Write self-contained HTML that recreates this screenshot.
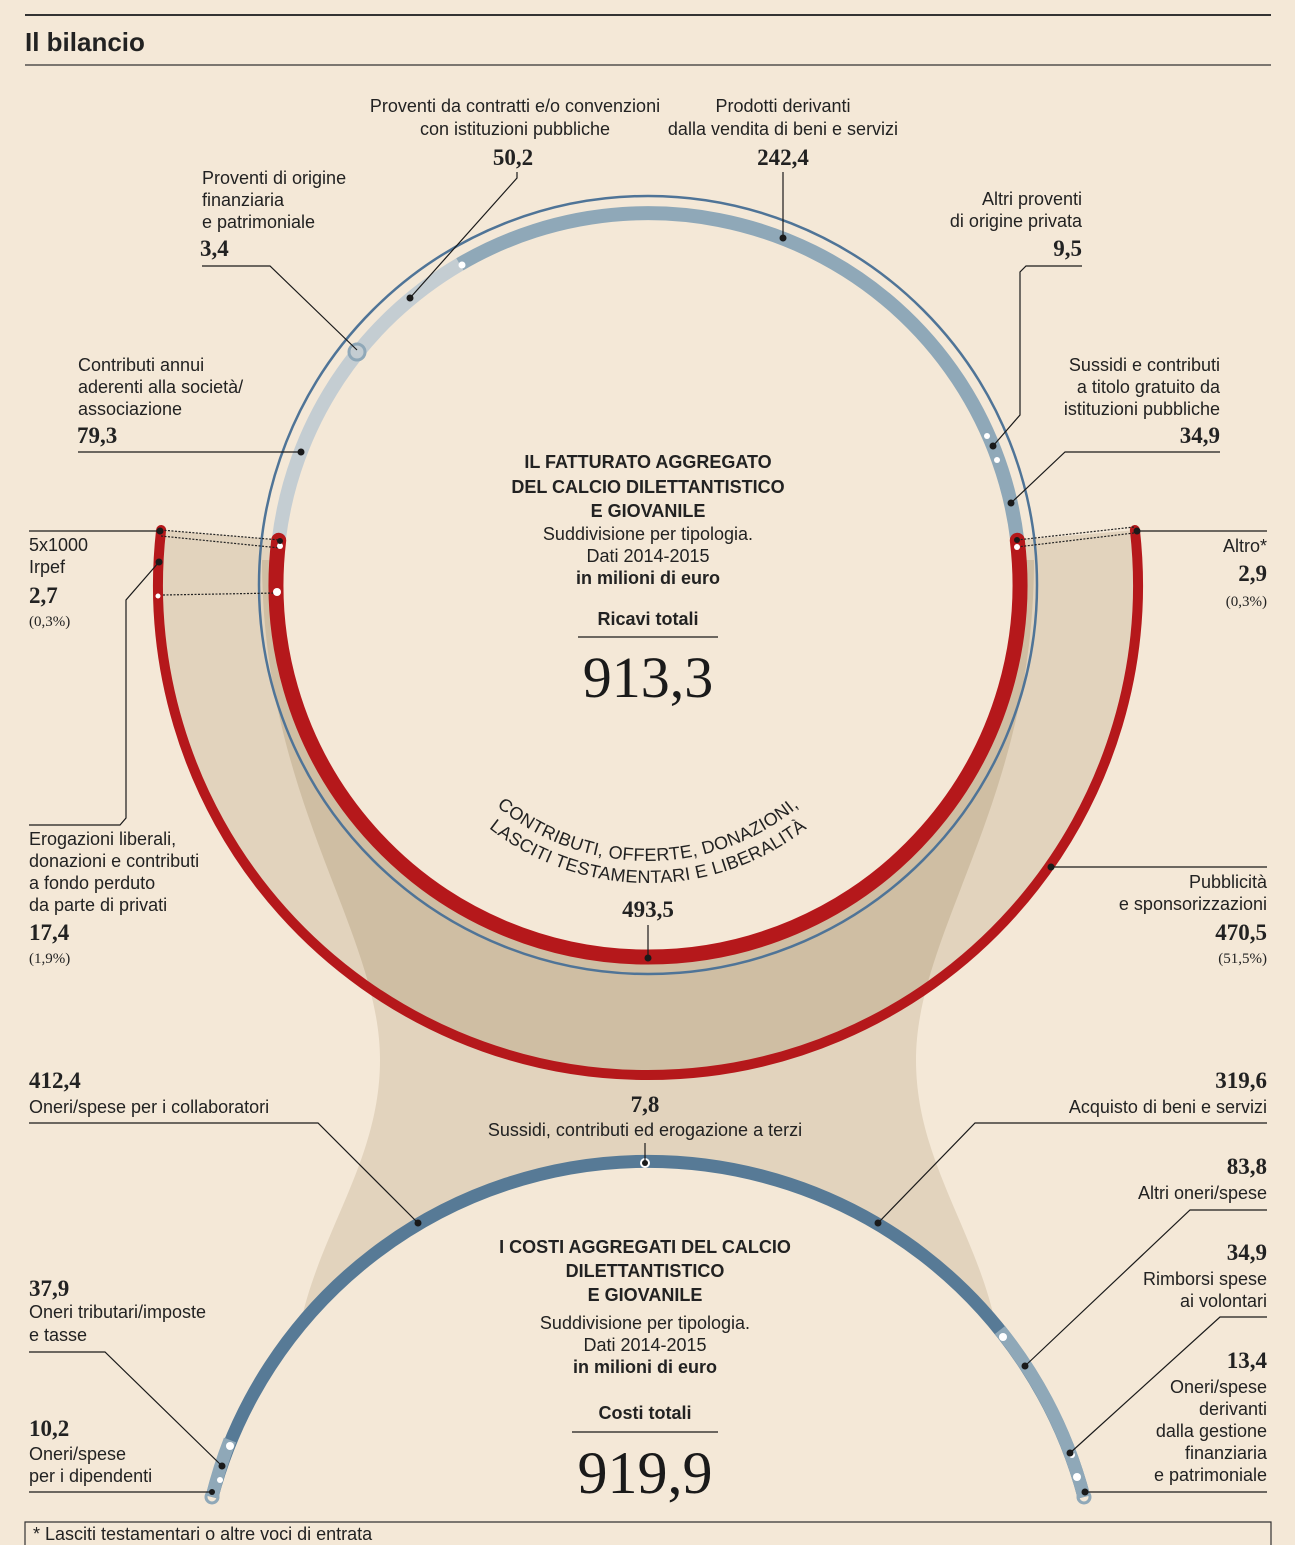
<!DOCTYPE html>
<html><head><meta charset="utf-8"><style>
html,body{margin:0;padding:0;background:#f4e8d7;overflow:hidden}
svg{display:block}
.s{font-family:"Liberation Sans Narrow","Liberation Sans",sans-serif;font-size:18px;fill:#222}
.b{font-weight:bold}
.n{font-family:"Liberation Serif",serif;font-weight:bold;font-size:23px;fill:#222}
.p{font-family:"Liberation Serif",serif;font-size:15px;fill:#222}
.ln{stroke:#1a1a1a;stroke-width:1.2;fill:none}
.e{text-anchor:end}.m{text-anchor:middle}
</style></head><body>
<svg width="1295" height="1545" viewBox="0 0 1295 1545" xmlns="http://www.w3.org/2000/svg">
<defs>
<clipPath id="fc"><path d="M262,560 C262,800 380,930 380,1060 C380,1160 320,1230 300,1326 A451 451 0 0 1 996,1326 C976,1230 916,1160 916,1060 C916,930 1034,800 1034,560 Z"/></clipPath>
<path id="t1" d="M412,625 A236,236 0 0 0 884,625"/>
<path id="t2" d="M390,625 A258,258 0 0 0 906,625"/>
</defs>
<rect width="1295" height="1545" fill="#f4e8d7"/>
<line x1="25" y1="15" x2="1271" y2="15" stroke="#333" stroke-width="2"/>
<text x="25" y="51" font-family="Liberation Sans Narrow, Liberation Sans, sans-serif" font-weight="bold" font-size="26" fill="#222">Il bilancio</text>
<line x1="25" y1="65" x2="1271" y2="65" stroke="#333" stroke-width="1.2"/>

<path d="M262,560 C262,800 380,930 380,1060 C380,1160 320,1230 300,1326 A451 451 0 0 1 996,1326 C976,1230 916,1160 916,1060 C916,930 1034,800 1034,560 Z" fill="#e2d3bd"/>
<path d="M1134.9,530 A490,490 0 1 1 161.1,530 L278.7,540.3 A372,372 0 1 0 1017.3,540.3 Z" fill="#e2d3bd"/>
<path clip-path="url(#fc)" d="M1134.9,530 A490,490 0 1 1 161.1,530 L278.7,540.3 A372,372 0 1 0 1017.3,540.3 Z" fill="#cfbea3"/>
<circle cx="648" cy="585" r="372" fill="#f4e8d7"/>
<circle cx="648" cy="1613" r="451" fill="#f4e8d7"/>

<circle cx="648" cy="585" r="389" fill="none" stroke="#4f7497" stroke-width="2.5"/>
<path d="M278.7,540.3 A372,372 0 0 1 459.8,264.3" fill="none" stroke="#c4cdd2" stroke-width="14"/>
<path d="M459.8,264.3 A372,372 0 0 1 1017.3,540.3" fill="none" stroke="#8fa8b8" stroke-width="14"/>
<path d="M1017.3,540.3 A372,372 0 1 1 278.7,540.3" fill="none" stroke="#b5181b" stroke-width="15" stroke-linecap="round"/>
<path d="M1134.9,530 A490,490 0 1 1 161.1,530" fill="none" stroke="#b5181b" stroke-width="10" stroke-linecap="round"/>
<path d="M212,1497 A451 451 0 0 1 1084,1497" fill="none" stroke="#577a96" stroke-width="13"/>
<path d="M1000,1330 A451 451 0 0 1 1084,1497" fill="none" stroke="#8fa8b8" stroke-width="13"/>
<path d="M212,1497 A451 451 0 0 1 230,1440" fill="none" stroke="#8fa8b8" stroke-width="13"/>

<g stroke="#222" stroke-width="1.2" stroke-dasharray="2,1.5" fill="none">
<line x1="161" y1="530" x2="280" y2="540"/><line x1="161" y1="536" x2="280" y2="548"/>
<line x1="163" y1="595" x2="277" y2="593"/>
<line x1="1134" y1="527" x2="1017" y2="540"/><line x1="1134" y1="533" x2="1017" y2="547"/>
</g>
<g fill="#fff">
<circle cx="462" cy="265" r="3.5"/><circle cx="987" cy="436" r="3"/><circle cx="997" cy="460" r="3"/>
<circle cx="277" cy="592" r="4"/><circle cx="158" cy="596" r="2.5"/><circle cx="280" cy="546" r="3"/>
<circle cx="1017" cy="547" r="3"/><circle cx="1003" cy="1337" r="4"/><circle cx="1077" cy="1477" r="4"/><circle cx="1072" cy="1455" r="3"/>
<circle cx="230" cy="1446" r="4"/><circle cx="220" cy="1480" r="3"/><circle cx="645" cy="1163" r="5"/>
</g>
<circle cx="357" cy="352" r="8" fill="none" stroke="#8fa8b8" stroke-width="3"/>
<circle cx="212" cy="1497" r="6" fill="none" stroke="#8fa8b8" stroke-width="3"/>
<circle cx="1084" cy="1497" r="6" fill="none" stroke="#8fa8b8" stroke-width="3"/>

<g class="ln">
<polyline points="517,172 517,178 410,298"/>
<polyline points="783,172 783,238"/>
<polyline points="202,266 270,266 357,350"/>
<polyline points="1082,266 1026,266 1020,272 1020,415 993,446"/>
<polyline points="78,452 301,452"/>
<polyline points="1220,452 1065,452 1011,503"/>
<polyline points="29,531 160,531"/>
<polyline points="29,825 120,825 126,818 126,600 159,562"/>
<polyline points="1137,531 1267,531"/>
<polyline points="648,925 648,958"/>
<polyline points="1267,867 1051,867"/>
<polyline points="29,1123 318,1123 418,1223"/>
<polyline points="645,1143 645,1163"/>
<polyline points="1267,1123 975,1123 878,1223"/>
<polyline points="1267,1210 1190,1210 1025,1366"/>
<polyline points="1267,1317 1220,1317 1070,1453"/>
<polyline points="1267,1492 1085,1492"/>
<polyline points="29,1352 105,1352 222,1466"/>
<polyline points="29,1492 212,1492"/>
<line x1="578" y1="637" x2="718" y2="637"/>
<line x1="572" y1="1432" x2="718" y2="1432"/>
</g>
<g fill="#1a1a1a">
<circle cx="410" cy="298" r="3.5"/><circle cx="783" cy="238" r="3.5"/><circle cx="993" cy="446" r="3.5"/>
<circle cx="301" cy="452" r="3.5"/><circle cx="1011" cy="503" r="3.5"/><circle cx="160" cy="531" r="3.5"/>
<circle cx="159" cy="562" r="3.5"/><circle cx="1137" cy="531" r="3.5"/><circle cx="648" cy="958" r="3.5"/>
<circle cx="1051" cy="867" r="3.5"/><circle cx="418" cy="1223" r="3.5"/><circle cx="645" cy="1163" r="3"/>
<circle cx="878" cy="1223" r="3.5"/><circle cx="1025" cy="1366" r="3.5"/><circle cx="1070" cy="1453" r="3.5"/>
<circle cx="1085" cy="1492" r="3.5"/><circle cx="222" cy="1466" r="3.5"/><circle cx="212" cy="1492" r="3"/>
<circle cx="280" cy="541" r="3"/><circle cx="1017" cy="540" r="3"/>
</g>

<text class="s m" x="515" y="112">Proventi da contratti e/o convenzioni</text>
<text class="s m" x="515" y="135">con istituzioni pubbliche</text>
<text class="n m" x="513" y="165">50,2</text>
<text class="s m" x="783" y="112">Prodotti derivanti</text>
<text class="s m" x="783" y="135">dalla vendita di beni e servizi</text>
<text class="n m" x="783" y="165">242,4</text>
<text class="s" x="202" y="184">Proventi di origine</text>
<text class="s" x="202" y="206">finanziaria</text>
<text class="s" x="202" y="228">e patrimoniale</text>
<text class="n" x="200" y="256">3,4</text>
<text class="s e" x="1082" y="205">Altri proventi</text>
<text class="s e" x="1082" y="227">di origine privata</text>
<text class="n e" x="1082" y="256">9,5</text>
<text class="s" x="78" y="371">Contributi annui</text>
<text class="s" x="78" y="393">aderenti alla società/</text>
<text class="s" x="78" y="415">associazione</text>
<text class="n" x="77" y="443">79,3</text>
<text class="s e" x="1220" y="371">Sussidi e contributi</text>
<text class="s e" x="1220" y="393">a titolo gratuito da</text>
<text class="s e" x="1220" y="415">istituzioni pubbliche</text>
<text class="n e" x="1220" y="443">34,9</text>

<text class="s b m" x="648" y="468" font-size="19">IL FATTURATO AGGREGATO</text>
<text class="s b m" x="648" y="493" font-size="19">DEL CALCIO DILETTANTISTICO</text>
<text class="s b m" x="648" y="517" font-size="19">E GIOVANILE</text>
<text class="s m" x="648" y="540">Suddivisione per tipologia.</text>
<text class="s m" x="648" y="562">Dati 2014-2015</text>
<text class="s b m" x="648" y="584">in milioni di euro</text>
<text class="s b m" x="648" y="625">Ricavi totali</text>
<text class="m" x="648" y="697" font-family="Liberation Serif,serif" font-size="58" fill="#1a1a1a">913,3</text>

<text class="s" font-size="17" letter-spacing="0.3"><textPath href="#t1" startOffset="50%" text-anchor="middle">CONTRIBUTI, OFFERTE, DONAZIONI,</textPath></text>
<text class="s" font-size="17" letter-spacing="0.3"><textPath href="#t2" startOffset="50%" text-anchor="middle">LASCITI TESTAMENTARI E LIBERALITÀ</textPath></text>
<text class="n m" x="648" y="917" font-size="26">493,5</text>

<text class="s" x="29" y="551">5x1000</text>
<text class="s" x="29" y="573">Irpef</text>
<text class="n" x="29" y="603">2,7</text>
<text class="p" x="29" y="626">(0,3%)</text>
<text class="s" x="29" y="845">Erogazioni liberali,</text>
<text class="s" x="29" y="867">donazioni e contributi</text>
<text class="s" x="29" y="889">a fondo perduto</text>
<text class="s" x="29" y="911">da parte di privati</text>
<text class="n" x="29" y="940">17,4</text>
<text class="p" x="29" y="963">(1,9%)</text>
<text class="s e" x="1267" y="552">Altro*</text>
<text class="n e" x="1267" y="581">2,9</text>
<text class="p e" x="1267" y="606">(0,3%)</text>
<text class="s e" x="1267" y="888">Pubblicità</text>
<text class="s e" x="1267" y="910">e sponsorizzazioni</text>
<text class="n e" x="1267" y="940">470,5</text>
<text class="p e" x="1267" y="963">(51,5%)</text>

<text class="n" x="29" y="1088" font-size="19">412,4</text>
<text class="s" x="29" y="1113">Oneri/spese per i collaboratori</text>
<text class="n m" x="645" y="1112" font-size="19">7,8</text>
<text class="s m" x="645" y="1136">Sussidi, contributi ed erogazione a terzi</text>
<text class="n e" x="1267" y="1088" font-size="19">319,6</text>
<text class="s e" x="1267" y="1113">Acquisto di beni e servizi</text>
<text class="n e" x="1267" y="1174" font-size="19">83,8</text>
<text class="s e" x="1267" y="1199">Altri oneri/spese</text>
<text class="n e" x="1267" y="1260" font-size="19">34,9</text>
<text class="s e" x="1267" y="1285">Rimborsi spese</text>
<text class="s e" x="1267" y="1307">ai volontari</text>
<text class="n e" x="1267" y="1368" font-size="19">13,4</text>
<text class="s e" x="1267" y="1393">Oneri/spese</text>
<text class="s e" x="1267" y="1415">derivanti</text>
<text class="s e" x="1267" y="1437">dalla gestione</text>
<text class="s e" x="1267" y="1459">finanziaria</text>
<text class="s e" x="1267" y="1481">e patrimoniale</text>
<text class="n" x="29" y="1296" font-size="19">37,9</text>
<text class="s" x="29" y="1318">Oneri tributari/imposte</text>
<text class="s" x="29" y="1341">e tasse</text>
<text class="n" x="29" y="1436" font-size="19">10,2</text>
<text class="s" x="29" y="1460">Oneri/spese</text>
<text class="s" x="29" y="1482">per i dipendenti</text>

<text class="s b m" x="645" y="1253" font-size="19">I COSTI AGGREGATI DEL CALCIO</text>
<text class="s b m" x="645" y="1277" font-size="19">DILETTANTISTICO</text>
<text class="s b m" x="645" y="1301" font-size="19">E GIOVANILE</text>
<text class="s m" x="645" y="1329">Suddivisione per tipologia.</text>
<text class="s m" x="645" y="1351">Dati 2014-2015</text>
<text class="s b m" x="645" y="1373">in milioni di euro</text>
<text class="s b m" x="645" y="1419">Costi totali</text>
<text class="m" x="645" y="1493" font-family="Liberation Serif,serif" font-size="60" fill="#1a1a1a">919,9</text>

<path d="M25,1545 V1522 H1271 V1545" fill="none" stroke="#333" stroke-width="1.2"/>
<text class="s" x="33" y="1540" font-size="14">* Lasciti testamentari o altre voci di entrata</text>
</svg>
</body></html>
